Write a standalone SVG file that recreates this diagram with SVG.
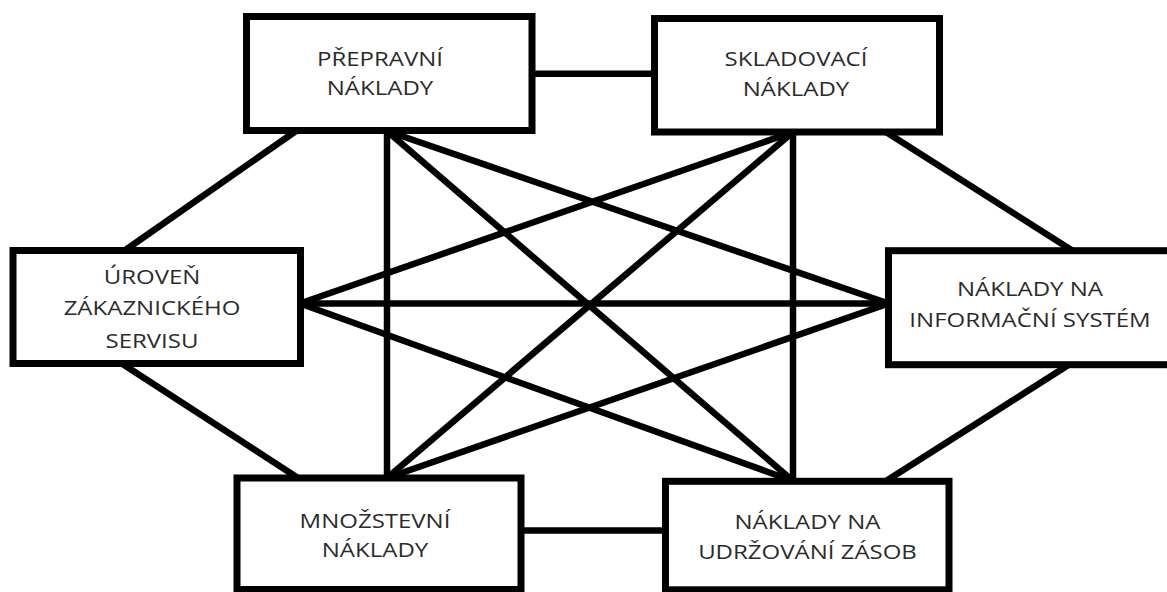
<svg xmlns="http://www.w3.org/2000/svg" width="1167" height="592" viewBox="0 0 1167 592">
<style>
.box{fill:#fff;stroke:#000;stroke-width:7}
.c{stroke:#000;stroke-width:6.5;fill:none}
.t{font-family:"Open Sans","Liberation Sans",sans-serif;font-size:20px;fill:#2b2b2b;text-anchor:middle}
</style>
<rect width="1167" height="592" fill="#fff"/>
<g id="connectors">
<line class="c" x1="532" y1="73.7" x2="654.5" y2="73.7"/>
<line class="c" x1="521" y1="530.5" x2="665.5" y2="530.5"/>
<line class="c" x1="296" y1="131" x2="124" y2="251"/>
<line class="c" x1="121" y1="363" x2="298" y2="478"/>
<line class="c" x1="886" y1="132" x2="1073" y2="251"/>
<line class="c" x1="1070" y1="364" x2="886" y2="481"/>
<line class="c" x1="387" y1="131" x2="387" y2="478"/>
<line class="c" x1="793" y1="132" x2="793" y2="481"/>
<line class="c" x1="300" y1="303.5" x2="888.5" y2="303.5"/>
<line class="c" x1="387" y1="131" x2="793" y2="481"/>
<line class="c" x1="793" y1="132" x2="387" y2="478"/>
<line class="c" x1="387" y1="131" x2="888.5" y2="303.5"/>
<line class="c" x1="793" y1="132" x2="300" y2="303.5"/>
<line class="c" x1="300" y1="303.5" x2="793" y2="481"/>
<line class="c" x1="888.5" y1="303.5" x2="387" y2="478"/>
</g>
<g id="prepravni">
<rect class="box" x="246.5" y="16.5" width="285.5" height="114"/>
<text class="t" transform="translate(380 66) scale(1.2 1)"><tspan x="0" y="0">PŘEPRAVNÍ</tspan><tspan x="0" y="29">NÁKLADY</tspan></text>
</g>
<g id="skladovaci">
<rect class="box" x="654.5" y="18.5" width="285" height="113.5"/>
<text class="t" transform="translate(796 66) scale(1.2 1)"><tspan x="0" y="0">SKLADOVACÍ</tspan><tspan x="0" y="30">NÁKLADY</tspan></text>
</g>
<g id="uroven">
<rect class="box" x="13" y="250.5" width="287.5" height="113"/>
<text class="t" transform="translate(152 284) scale(1.2 1)"><tspan x="0" y="0">ÚROVEŇ</tspan><tspan x="0" y="31">ZÁKAZNICKÉHO</tspan><tspan x="0" y="64">SERVISU</tspan></text>
</g>
<g id="informacni">
<rect class="box" x="888.5" y="250.7" width="290" height="114"/>
<text class="t" transform="translate(1030 296) scale(1.2 1)"><tspan x="0" y="0">NÁKLADY NA</tspan><tspan x="0" y="31">INFORMAČNÍ SYSTÉM</tspan></text>
</g>
<g id="mnozstevni">
<rect class="box" x="237" y="478" width="284" height="111.5"/>
<text class="t" transform="translate(375 528) scale(1.2 1)"><tspan x="0" y="0">MNOŽSTEVNÍ</tspan><tspan x="0" y="29">NÁKLADY</tspan></text>
</g>
<g id="udrzovani">
<rect class="box" x="665.5" y="481.3" width="283.5" height="108.5"/>
<text class="t" transform="translate(807.5 529) scale(1.2 1)"><tspan x="0" y="0">NÁKLADY NA</tspan><tspan x="0" y="30">UDRŽOVÁNÍ ZÁSOB</tspan></text>
</g>
</svg>
